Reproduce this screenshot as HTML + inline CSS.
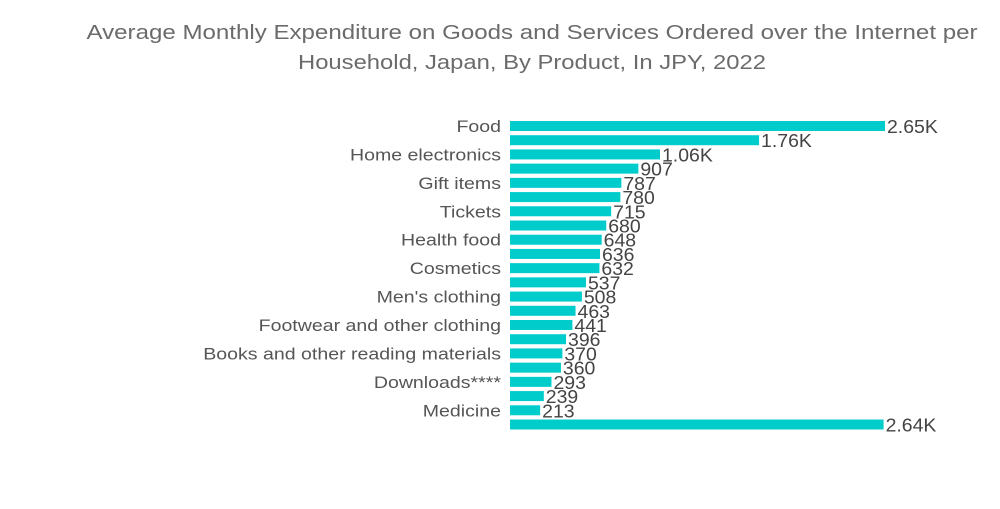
<!DOCTYPE html>
<html><head><meta charset="utf-8">
<style>
html,body{margin:0;padding:0;background:#fff;}
body{width:1000px;height:504px;overflow:hidden;font-family:"Liberation Sans",sans-serif;}
</style></head>
<body>
<svg id="chart" width="1000" height="504" xmlns="http://www.w3.org/2000/svg">
<text x="532" y="39" text-anchor="middle" font-size="20" fill="#6b6b6b" textLength="891" lengthAdjust="spacingAndGlyphs" font-family="Liberation Sans, sans-serif">Average Monthly Expenditure on Goods and Services Ordered over the Internet per</text>
<text x="532" y="69" text-anchor="middle" font-size="20" fill="#6b6b6b" textLength="468" lengthAdjust="spacingAndGlyphs" font-family="Liberation Sans, sans-serif">Household, Japan, By Product, In JPY, 2022</text>
<g id="bars"></g>
</svg>
<script>
const categories = ["Food","","Home electronics","","Gift items","","Tickets","","Health food","","Cosmetics","","Men's clothing","","Footwear and other clothing","","Books and other reading materials","","Downloads****","","Medicine",""];
const values = [2650,1760,1060,907,787,780,715,680,648,636,632,537,508,463,441,396,370,360,293,239,213,2640];
const valueLabels = ["2.65K","1.76K","1.06K","907","787","780","715","680","648","636","632","537","508","463","441","396","370","360","293","239","213","2.64K"];

const x0 = 510, xScale = 375/2650;
const yTop = 126, pitch = (424.5-126)/21, barH = 10;
function xPos(v){ return x0 + v*xScale; }
function yPos(i){ return yTop + i*pitch; }
function stretch(t, f){
  const L = t.getComputedTextLength();
  t.setAttribute('textLength', L*f);
  t.setAttribute('lengthAdjust','spacingAndGlyphs');
}
const g = document.getElementById('bars');
const NS = "http://www.w3.org/2000/svg";
values.forEach((v,i)=>{
  const r = document.createElementNS(NS,'rect');
  
  
  r.setAttribute('x',x0);
  r.setAttribute('y',yPos(i)-barH/2);
  r.setAttribute('width',xPos(v)-x0);
  r.setAttribute('height',barH);
  r.setAttribute('fill','#00cccc');
  g.appendChild(r);
  const t = document.createElementNS(NS,'text');
  
  
  t.setAttribute('x',xPos(v)+2);
  t.setAttribute('y',yPos(i)+7);
  t.setAttribute('font-size','18');
  t.setAttribute('fill','#444');
  t.textContent = valueLabels[i];
  g.appendChild(t);
  stretch(t,1.08);
  if(categories[i]){
    const c = document.createElementNS(NS,'text');
    
    
    c.setAttribute('x',501);
    c.setAttribute('y',yPos(i)+6);
    c.setAttribute('text-anchor','end');
    c.setAttribute('font-size','17');
    c.setAttribute('fill','#555');
    c.textContent = categories[i];
    g.appendChild(c);
    stretch(c,1.15);
  }
});
</script>
</body></html>
